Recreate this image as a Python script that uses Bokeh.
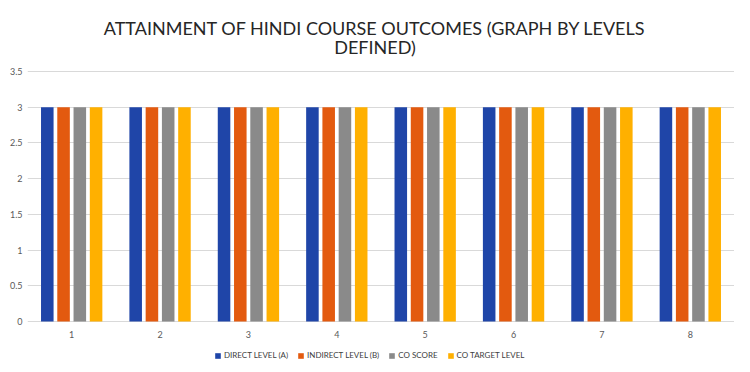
from bokeh.plotting import figure
from bokeh.models import Range1d, FixedTicker, Legend, LegendItem, ColumnDataSource, Label
from bokeh.core.properties import value
from bokeh.transform import dodge
from bokeh.embed import file_html
from bokeh.resources import INLINE

categories = ["1", "2", "3", "4", "5", "6", "7", "8"]
direct_level = [3, 3, 3, 3, 3, 3, 3, 3]
indirect_level = [3, 3, 3, 3, 3, 3, 3, 3]
co_score = [3, 3, 3, 3, 3, 3, 3, 3]
co_target = [3, 3, 3, 3, 3, 3, 3, 3]
series_names = ["DIRECT LEVEL (A)", "INDIRECT LEVEL (B)", "CO SCORE", "CO TARGET LEVEL"]
colors = ["#1f45a8", "#e35a0f", "#8a8a8a", "#ffb000"]
y_ticks = [0, 0.5, 1, 1.5, 2, 2.5, 3, 3.5]
title_lines = ["ATTAINMENT OF HINDI COURSE OUTCOMES (GRAPH BY LEVELS", "DEFINED)"]

source = ColumnDataSource(dict(cat=categories, a=direct_level, b=indirect_level,
                               c=co_score, d=co_target, base=[0] * len(categories)))

FONT = "Lato"
# the frame spans the full figure height: the title sits above 3.5,
# the category labels and legend below the zero line
p = figure(x_range=categories, y_range=Range1d(-0.588, 4.396), frame_width=707, frame_height=356,
           output_backend="svg", toolbar_location=None, title=None,
           min_border_left=27, min_border_right=0, min_border_top=7, min_border_bottom=0)

offsets = [-0.276, -0.092, 0.092, 0.276]
items = []
for key, off, col, name in zip(["a", "b", "c", "d"], offsets, colors, series_names):
    r = p.vbar(x=dodge("cat", off, range=p.x_range), top=key, bottom=0, width=0.142,
               source=source, color=col, line_color=None)
    items.append(LegendItem(label=name, renderers=[r]))

# category labels under the zero line
p.text(x="cat", y="base", text="cat", source=source, y_offset=13,
       text_align="center", text_baseline="middle", text_font_size="9px",
       text_color="#595959", text_font=value(FONT))

# two-line centred title
for line, yv in zip(title_lines, [4.116, 3.85]):
    p.add_layout(Label(x=4.0, y=yv, x_offset=-6, text=line, text_align="center",
                       text_baseline="middle", text_font=FONT, text_font_size="18px",
                       text_color="#262626"))

legend = Legend(items=items, orientation="horizontal", location=(187, 3),
                glyph_width=7, glyph_height=7, label_height=10, label_text_font=FONT,
                label_text_font_size="8px", label_text_color="#404040",
                spacing=9, label_standoff=3, border_line_color=None,
                background_fill_alpha=0, padding=0, margin=0)
p.add_layout(legend, "center")

p.yaxis.ticker = FixedTicker(ticks=y_ticks)
p.yaxis.axis_line_color = None
p.yaxis.major_tick_line_color = None
p.yaxis.major_tick_out = 0
p.yaxis.minor_tick_line_color = None
p.yaxis.major_label_text_font = FONT
p.yaxis.major_label_text_font_size = "9px"
p.yaxis.major_label_text_color = "#595959"
p.yaxis.major_label_standoff = 5

p.xaxis.visible = False
p.xgrid.grid_line_color = None
p.ygrid.grid_line_color = "#d9d9d9"
p.outline_line_color = None
p.x_range.range_padding = 0

open("out.html", "w").write(file_html(p, INLINE))
